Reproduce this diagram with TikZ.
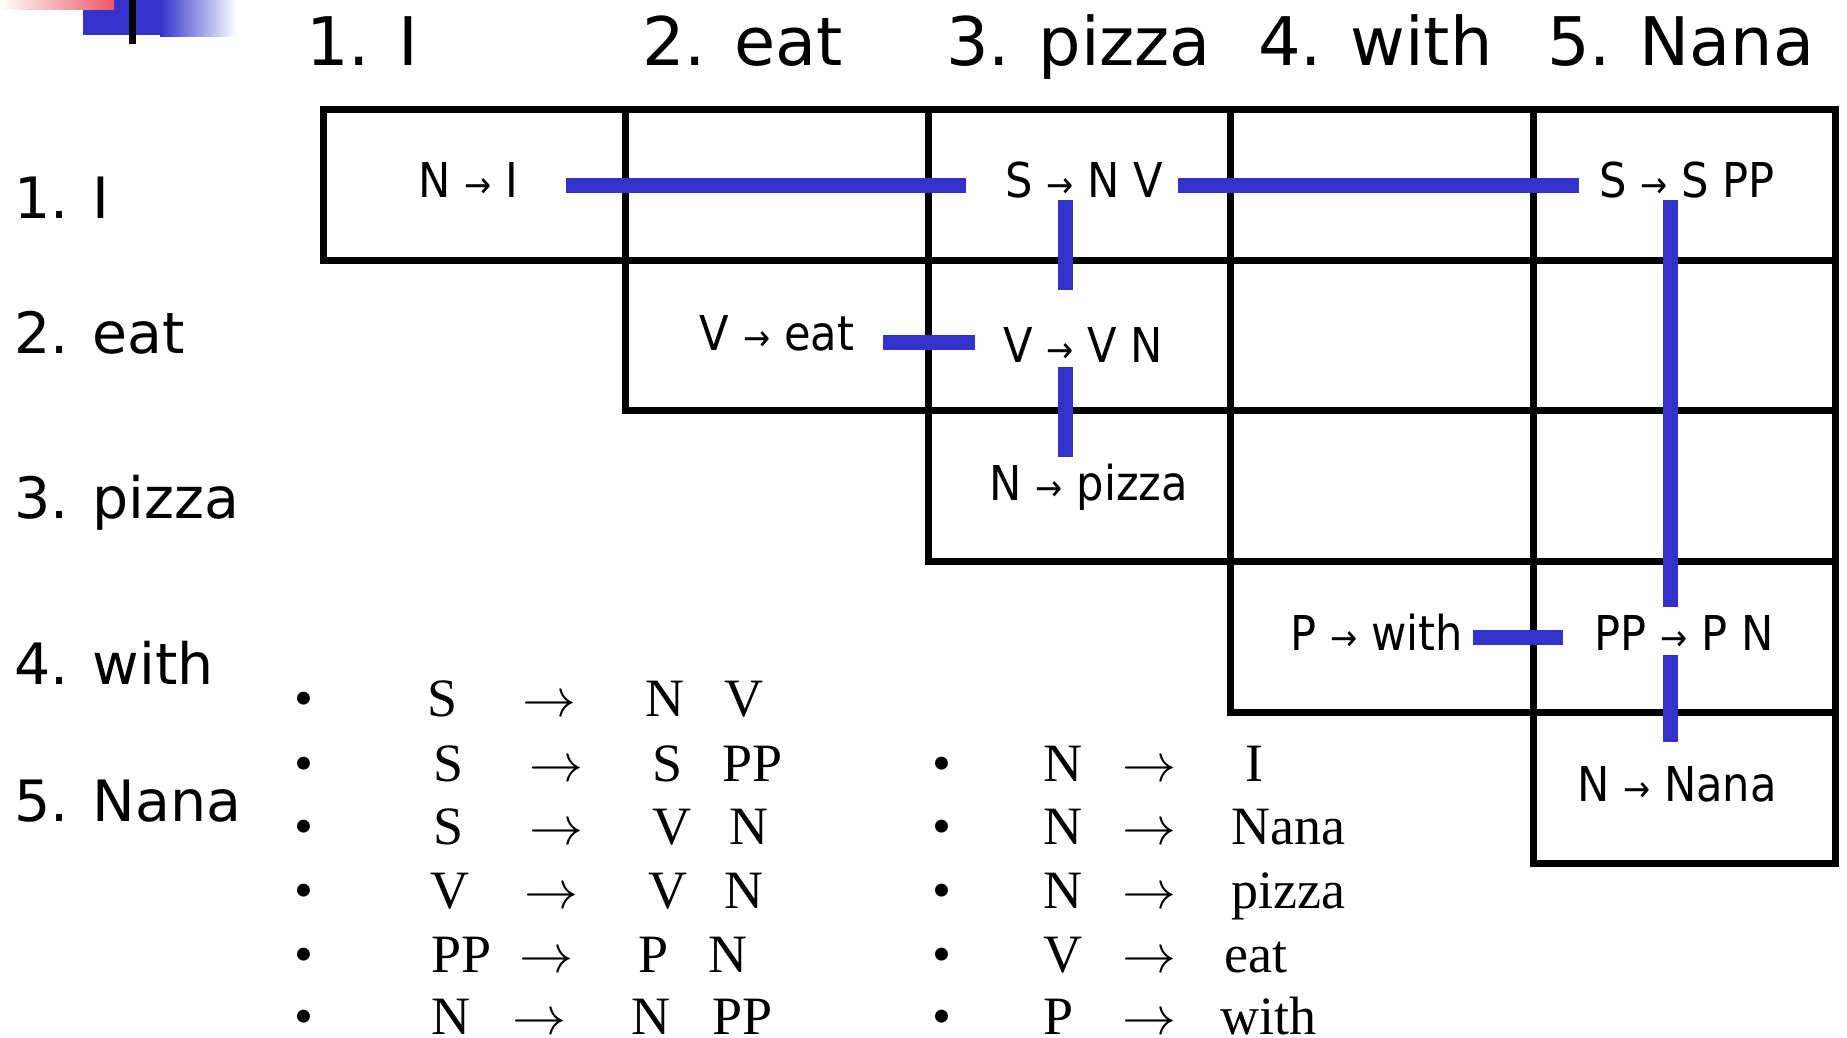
\RequirePackage{fix-cm}
\documentclass[tikz,border=0pt]{standalone}
\usepackage{fontspec}
\setmainfont{Liberation Serif}
\newfontfamily\wordfont{DejaVu Sans}
\newfontfamily\cellfont{DejaVu Sans}[FakeStretch=0.9]
\newcommand{\cellarrow}{{\fontsize{36}{36}\selectfont →}}
\newcommand{\gramarrow}{$\rightarrow$}

\begin{document}
\begin{tikzpicture}[x=1pt,y=-1pt,
  cellbox/.style={draw=black,line width=7pt},
  rulecell/.style={font=\cellfont\fontsize{48}{48}\selectfont,inner sep=0pt,text height=35pt,text depth=0pt},
  link/.style={draw={rgb, 255:red, 51; green, 51; blue, 204 },line width=15pt},
  tophead/.style={font=\wordfont\fontsize{67}{67}\selectfont,inner sep=0pt,anchor=base west},
  sidehead/.style={font=\wordfont\fontsize{57}{57}\selectfont,inner sep=0pt,anchor=base west},
  gram/.style={font=\fontsize{54}{54}\selectfont,inner sep=0pt,anchor=base west}]
\useasboundingbox (0,0) rectangle (1847,1037);

%Shape: Rectangle (corner mark)
\fill [color={rgb, 255:red, 51; green, 51; blue, 204 }] (83,0) rectangle (160,35);
\shade [left color={rgb, 255:red, 51; green, 51; blue, 204 },right color=white] (160,0) rectangle (237,36);
\shade [left color=white,right color={rgb, 255:red, 236; green, 88; blue, 102 }] (0,0) rectangle (114,9);
\fill [black] (129,0) rectangle (136,44);

% Text Node
\node[tophead] (h1) at (306,65) {1. I};
\node[tophead] (h2) at (642,65) {2. eat};
\node[tophead] (h3) at (946,65) {3. pizza};
\node[tophead] (h4) at (1258,65) {4. with};
\node[tophead] (h5) at (1547,65) {5. Nana};

% Text Node
\node[sidehead] (s1) at (14,218) {1. I};
\node[sidehead] (s2) at (14,353) {2. eat};
\node[sidehead] (s3) at (14,518) {3. pizza};
\node[sidehead] (s4) at (14,684) {4. with};
\node[sidehead] (s5) at (14,821) {5. Nana};

%Shape: Rectangle (chart cells)
\foreach \r in {1,...,5}
  \foreach \c in {\r,...,5}
    \draw[cellbox] ({323+302.5*(\c-1)},{109.5+150.7*(\r-1)}) rectangle ++(302.5,150.7);

% Text Node
\node[rulecell] (ni) at (468,180) {N \cellarrow{} I};
\node[rulecell] (snv) at (1084,180) {S \cellarrow{} N V};
\node[rulecell] (sspp) at (1687,180) {S \cellarrow{} S PP};
\node[rulecell] (veat) at (777,333) {V \cellarrow{} eat};
\node[rulecell] (vvn) at (1083,345) {V \cellarrow{} V N};
\node[rulecell] (npizza) at (1089,483) {N \cellarrow{} pizza};
\node[rulecell] (pwith) at (1377,633) {P \cellarrow{} with};
\node[rulecell] (pppn) at (1684,633) {PP \cellarrow{} P N};
\node[rulecell] (nnana) at (1677,784) {N \cellarrow{} Nana};

%Straight Lines
\draw[link,shorten <=48pt,shorten >=39pt] ([yshift=-5pt]ni.east) -- ([yshift=-5pt]snv.west);
\draw[link,shorten <=15pt,shorten >=20pt] ([yshift=-5pt]snv.east) -- ([yshift=-5pt]sspp.west);
\draw[link,shorten <=29pt,shorten >=28pt] ([yshift=-9pt]veat.east) -- ([yshift=-9pt]veat.east -| vvn.west);
\draw[link,shorten <=10pt,shorten >=31pt] ([yshift=-4pt]pwith.east) -- ([yshift=-4pt]pppn.west);
\draw[link,shorten <=2.5pt,shorten >=37.5pt] ([xshift=-19pt]snv.south) -- ([xshift=-19pt]snv.south |- vvn.north);
\draw[link,shorten <=4.5pt,shorten >=8.5pt] ([xshift=-18pt]vvn.south) -- ([xshift=-18pt]vvn.south |- npizza.north);
\draw[link,shorten <=2.5pt,shorten >=8.5pt] ([xshift=-17pt]sspp.south) -- ([xshift=-17pt]sspp.south |- pppn.north);
\draw[link,shorten <=4.5pt,shorten >=24.5pt] ([xshift=-14pt]pppn.south) -- ([xshift=-14pt]pppn.south |- nnana.north);

% Text Node (grammar, left list)
\foreach \y/\lx/\ax/\bx/\cx/\l/\b/\c [count=\i] in
  {716/427/522/645/724/S/N/V, 781/433/529/652/722/S/S/PP, 844/433/529/652/729/S/V/N,
   908/430/524/648/724/V/V/N, 972/431/519/638/708/PP/P/N, 1034/431/512/631/712/N/N/PP}
{
  \node[gram,anchor=base] (lb\i) at (304,\y) {\textbullet};
  \node[gram] (ll\i) at (\lx,\y) {\l};
  \node[gram] (la\i) at (\ax,\y) {\gramarrow};
  \node[gram] (lr\i) at (\bx,\y) {\b};
  \node[gram] (ls\i) at (\cx,\y) {\c};
}

% Text Node (grammar, right list)
\foreach \y/\l/\w/\wx [count=\i] in
  {781/N/I/1245, 844/N/Nana/1231, 908/N/pizza/1231, 972/V/eat/1224, 1034/P/with/1220}
{
  \node[gram,anchor=base] (rb\i) at (942,\y) {\textbullet};
  \node[gram] (rl\i) at (1043,\y) {\l};
  \node[gram] (ra\i) at (1122,\y) {\gramarrow};
  \node[gram] (rw\i) at (\wx,\y) {\w};
}

\end{tikzpicture}
\end{document}
